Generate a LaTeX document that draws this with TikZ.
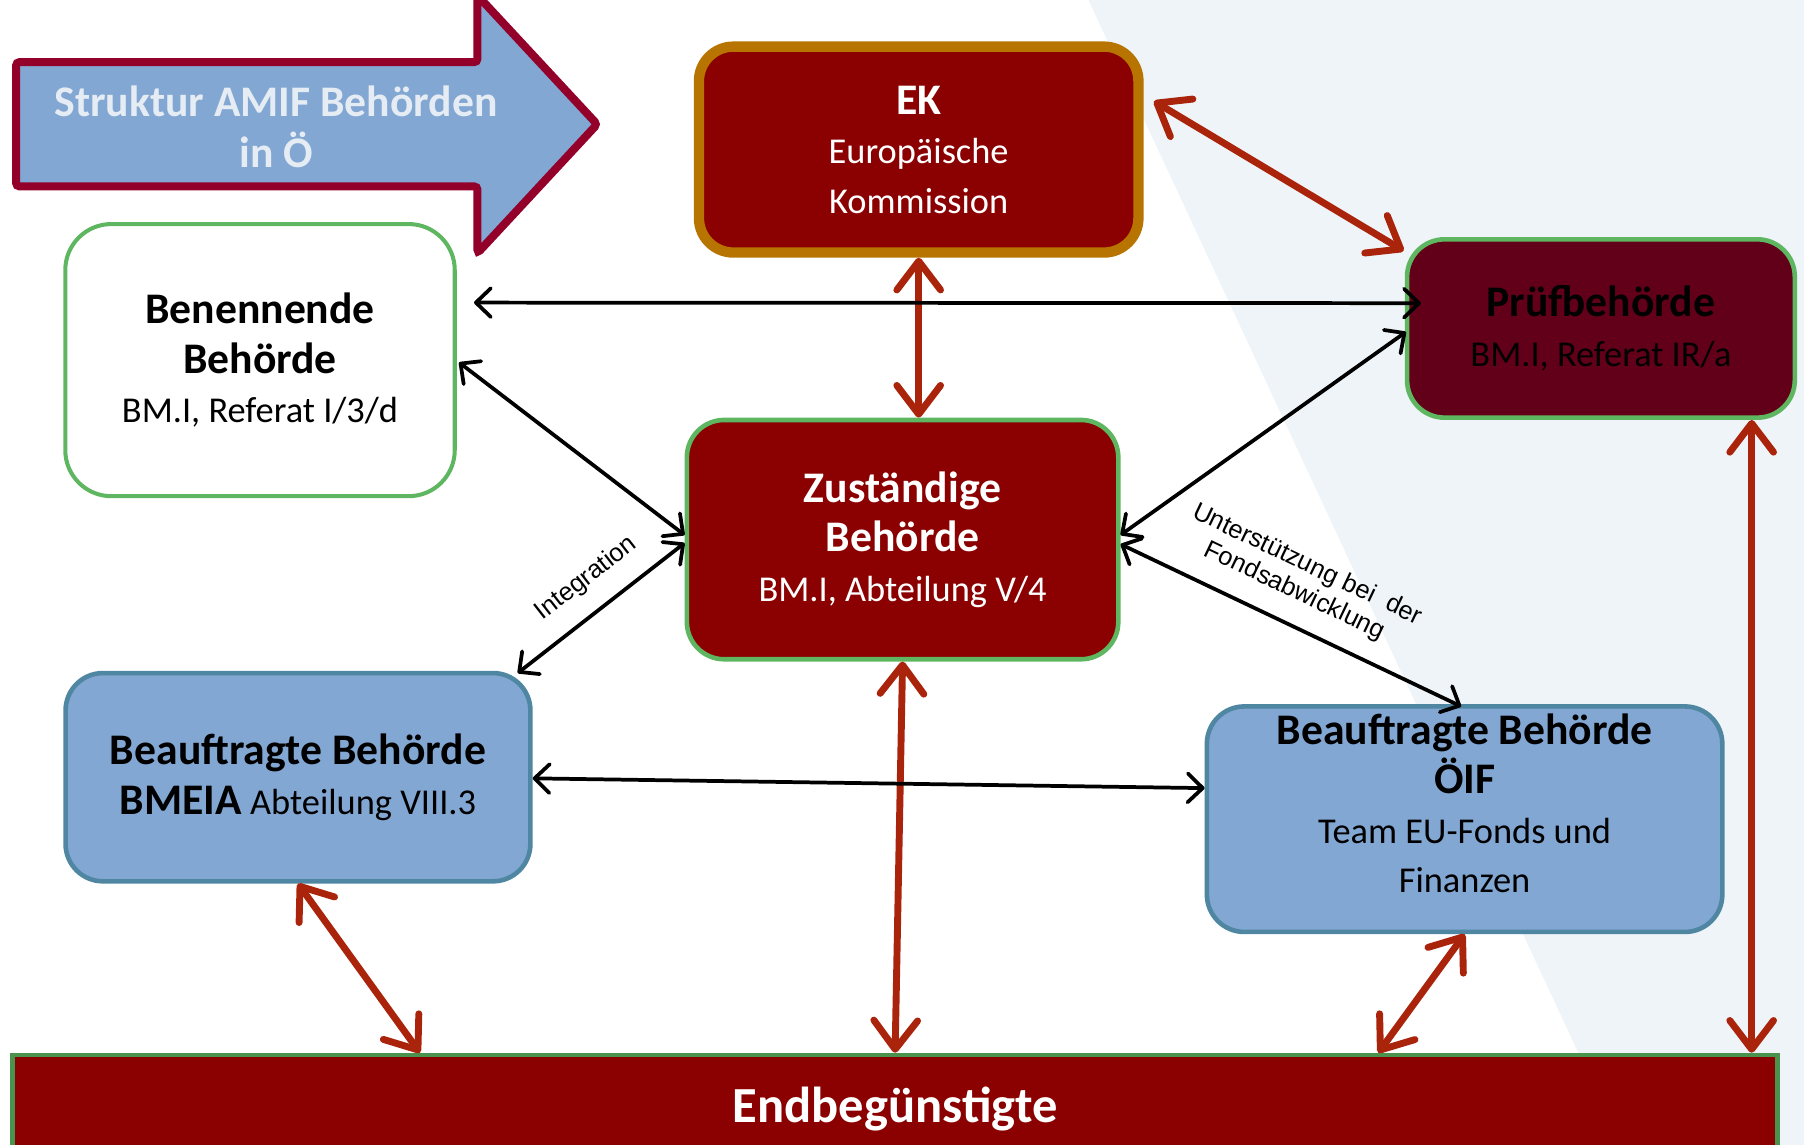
\documentclass[tikz,border=0pt]{standalone}
\usepackage{fontspec}
\setmainfont{Carlito}
\newfontfamily\arialfnt{Liberation Sans}
\usetikzlibrary{positioning, arrows.meta, calc}

\definecolor{darkfill}{HTML}{8B0000}
\definecolor{ekframe}{HTML}{B87400}
\definecolor{frgreen}{HTML}{5FB660}
\definecolor{prffill}{HTML}{62001A}
\definecolor{lblue}{HTML}{82A7D3}
\definecolor{steel}{HTML}{4F86A1}
\definecolor{titleframe}{HTML}{930029}
\definecolor{titletext}{HTML}{E5ECF3}
\definecolor{arrred}{HTML}{AA240C}
\definecolor{bgtint}{HTML}{EEF4F7}
\definecolor{endframe}{HTML}{4A934F}

\newcommand{\hd}{\fontsize{21.6}{25}\selectfont\bfseries}

\begin{document}
\begin{tikzpicture}[x=0.2mm, y=-0.2mm,
  % ---- Style definitions ----
  box/.style={
    draw, rounded corners=6.5mm, line width=0.8mm, inner sep=0pt,
    align=center, font=\fontsize{18}{24.5}\selectfont
  },
  redbox/.style={box, fill=darkfill, draw=frgreen, text=white},
  bluebox/.style={box, fill=lblue, draw=steel, text=black},
  redarr/.style={
    <->, >={Straight Barb[round, length=5mm, width=7.6mm]},
    line width=1.2mm, draw=arrred, line cap=round
  },
  blkarr/.style={
    <->, >={Straight Barb[round, length=2.6mm, width=5mm]},
    line width=0.65mm, draw=black, line cap=round
  },
  lbl/.style={
    font=\arialfnt\fontsize{12.6}{14.5}\selectfont, align=center,
    sloped, above, inner xsep=0pt, inner ysep=3.2mm
  },
]

\path[use as bounding box, clip] (0,0) rectangle (1568,995);

% ---- Background tint ----
\fill[bgtint] (946,0) -- (1568,0) -- (1568,995) -- (1409,995) -- cycle;

% ---- Title arrow ----
\draw[fill=lblue, draw=titleframe, line width=1.4mm, rounded corners=0.6mm]
  (14,54) -- (415,54) -- (415,-4) -- (519,108) -- (415,220) -- (415,162)
  -- (14,162) -- cycle;
\node[text=titletext, align=center, font=\hd] (title) at (240,110)
  {Struktur AMIF Behörden\\in Ö};

% ---- Nodes ----
\node[box, fill=darkfill, draw=ekframe, line width=1.8mm, rounded corners=6mm,
      text=white, minimum width=76.4mm, minimum height=35.8mm]
  (ek) at (798.5,130) {{\hd EK}\\Europäische\\Kommission};

\node[box, fill=white, draw=frgreen, line width=0.7mm, rounded corners=8mm,
      minimum width=67.7mm, minimum height=47.3mm]
  (ben) at (226,313) {{\hd Benennende}\\{\hd Behörde}\\BM.I, Referat I/3/d};

\node[box, fill=prffill, draw=frgreen, minimum width=67.4mm, minimum height=31mm]
  (prf) at (1391.5,285.5) {{\hd Prüfbehörde}\\BM.I, Referat IR/a};

\node[redbox, minimum width=75mm, minimum height=41.6mm]
  (zust) at (784.5,469) {{\hd Zuständige}\\{\hd Behörde}\\BM.I, Abteilung V/4};

\node[bluebox, minimum width=80.8mm, minimum height=36.2mm]
  (bmeia) at (259,675.5) {{\hd Beauftragte Behörde}\\{\hd BMEIA} Abteilung VIII.3};

\node[bluebox, minimum width=89.6mm, minimum height=39.2mm, text depth=5.6mm]
  (oif) at (1273,712)
  {{\hd Beauftragte Behörde}\\{\hd ÖIF}\\Team EU-Fonds und\\Finanzen};

\node[draw=endframe, fill=darkfill, line width=0.8mm, text=white,
      minimum width=306.8mm, minimum height=18.8mm,
      font=\fontsize{25}{30}\selectfont\bfseries]
  (end) at (778,964) {Endbegünstigte};

% ---- Red links ----
\draw[redarr] ([shift={(9,-42)}]ek.east) -- ([shift={(-1,12)}]prf.north west);
\draw[redarr] (ek.south) -- (ek.south |- zust.north);
\draw[redarr] (zust.south) -- (end.north);
\draw[redarr] (bmeia.south) -- ([shift={(-413,0)}]end.north);
\draw[redarr] (oif.south) -- ([shift={(420,0)}]end.north);
\draw[redarr] ([shift={(131,0)}]prf.south) -- ([shift={(131,0)}]prf.south |- end.north);

% ---- Black links ----
\draw[blkarr] ([shift={(15,-50)}]ben.east) -- ([shift={(14,-22)}]prf.west);
\draw[blkarr] ([shift={(2,2)}]ben.east) -- ([shift={(0,-4)}]zust.west);
\draw[blkarr] ([shift={(-13,2)}]bmeia.north east)
  -- node[lbl, pos=0.53] (lint) {Integration} ([shift={(0,3)}]zust.west);
\draw[blkarr] ([shift={(0,-4)}]zust.east) -- ([shift={(1,3)}]prf.west);
\draw[blkarr] ([shift={(0,4)}]zust.east)
  -- node[lbl, pos=0.47] (lfonds) {Unterstützung bei\ \ der\\Fondsabwicklung}
  ([shift={(-3,2)}]oif.north);
\draw[blkarr] ([shift={(0,1)}]bmeia.east) -- ([shift={(0,-27)}]oif.west);

\end{tikzpicture}
\end{document}
